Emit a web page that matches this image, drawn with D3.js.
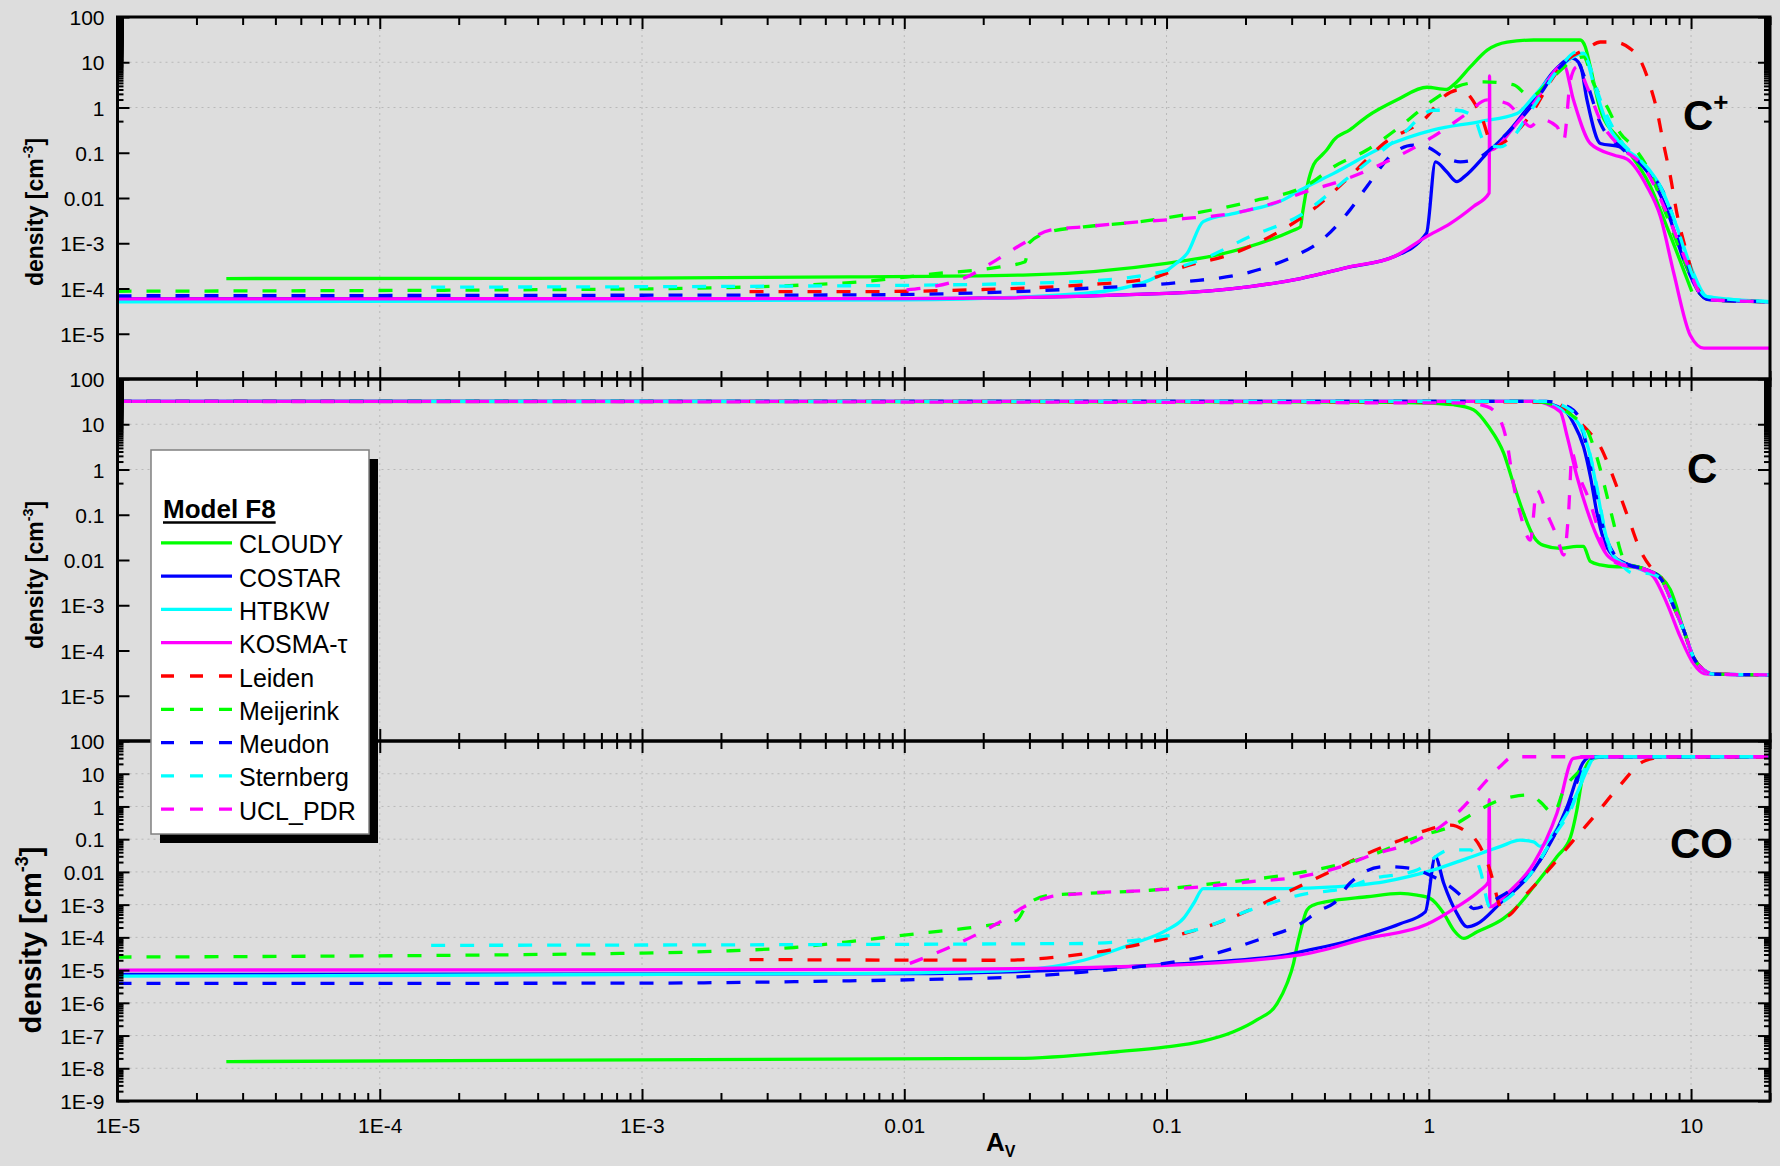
<!DOCTYPE html>
<html><head><meta charset="utf-8">
<script src="https://cdn.jsdelivr.net/npm/d3@7"></script>
<style>
body{margin:0;background:#dddddd;}
svg{display:block;}
text{font-family:"Liberation Sans",Arial,sans-serif;fill:#000;}
</style>
</head><body>
<svg id="chart" width="1780" height="1166"></svg>
<script>
// ---------------- data ----------------
const models = ["CLOUDY","COSTAR","HTBKW","KOSMA-\u03c4","Leiden","Meijerink","Meudon","Sternberg","UCL_PDR"];
const colors = ["#00ff00","#0000ff","#00ffff","#ff00ff","#ff0000","#00ff00","#0000ff","#00ffff","#ff00ff"];
const dashed = [false,false,false,false,true,true,true,true,true];

const xTickValues = [1e-5,1e-4,1e-3,0.01,0.1,1,10];
const xTickLabels = ["1E-5","1E-4","1E-3","0.01","0.1","1","10"];
const yTickValues12 = [1e-5,1e-4,1e-3,0.01,0.1,1,10,100];
const yTickLabels12 = ["1E-5","1E-4","1E-3","0.01","0.1","1","10","100"];
const yTickValues3 = [1e-9,1e-8,1e-7,1e-6,1e-5,1e-4,1e-3,0.01,0.1,1,10,100];
const yTickLabels3 = ["1E-9","1E-8","1E-7","1E-6","1E-5","1E-4","1E-3","0.01","0.1","1","10","100"];

// C+ panel  [Av, density]
const cpCLOUDY = [[2.6e-5,1.66e-4],[1e-3,1.7e-4],[6.2e-3,1.8e-4],[0.03,2.0e-4],[0.1,3.6e-4],[0.156,5.5e-4],[0.305,1.95e-3],[0.324,2.3e-3],[0.33,4.6e-3],[0.345,0.02],[0.364,0.055],[0.385,0.081],[0.408,0.115],[0.434,0.19],[0.5,0.32],[0.581,0.63],[0.757,1.48],[0.984,2.8],[1.17,2.5],[1.245,3.2],[1.44,7.9],[1.67,18.6],[1.99,28],[2.51,31],[3.78,31],[3.95,22],[4.13,7.9],[4.51,0.87],[5.37,0.19],[7.0,0.018],[8.09,2.3e-3],[10.07,8.5e-5]];
const cpCOSTAR = [[1e-5,5.9e-5],[0.01,6.0e-5],[0.1,7.8e-5],[0.208,1.1e-4],[0.324,1.66e-4],[0.5,3.0e-4],[0.734,5.0e-4],[0.98,1.66e-3],[1.06,0.063],[1.17,0.038],[1.28,0.023],[1.37,0.030],[1.67,0.098],[1.99,0.27],[2.51,1.48],[2.99,6.2],[3.52,12.3],[3.78,8.7],[4.01,1.48],[4.51,0.16],[5.37,0.135],[6.04,0.081],[7.0,0.030],[8.09,5.4e-3],[9.38,4.3e-4],[10.8,7.8e-5],[11.8,5.6e-5],[20,5.1e-5]];
const cpHTBKW = [[1e-5,5.1e-5],[0.01,5.6e-5],[0.0483,7.8e-5],[0.0867,1.55e-4],[0.109,3.6e-4],[0.12,6.0e-4],[0.138,3.0e-3],[0.185,4.7e-3],[0.279,9.1e-3],[0.324,0.015],[0.434,0.035],[0.673,0.135],[1.042,0.32],[1.57,0.49],[2.17,0.74],[2.51,1.74],[3.17,7.9],[3.89,15.8],[4.25,3.4],[4.78,0.45],[5.37,0.16],[6.59,0.059],[7.64,0.018],[8.83,2.3e-3],[10.2,2.2e-4],[11.5,6.6e-5],[20,5.1e-5]];
const cpKOSMA = [[1e-5,5.9e-5],[0.01,6.0e-5],[0.1,7.8e-5],[0.208,1.1e-4],[0.324,1.66e-4],[0.5,3.0e-4],[0.734,5.0e-4],[0.98,1.4e-3],[1.21,2.75e-3],[1.48,6.5e-3],[1.70,0.013],[1.705,5.0],[1.71,0.115],[2.17,0.45],[2.51,1.23],[3.27,8.7],[3.56,1.48],[4.13,0.16],[5.07,0.089],[5.7,0.072],[6.79,0.018],[7.64,3.9e-3],[8.59,2.2e-4],[9.93,9.3e-6],[11.2,4.8e-6],[20,4.8e-6]];
const cpLeiden = [[2.57e-3,8.5e-5],[6.2e-3,8.5e-5],[0.02,9.5e-5],[0.0483,1.2e-4],[0.0867,1.66e-4],[0.116,3.0e-4],[0.18,6.0e-4],[0.242,1.3e-3],[0.374,6.5e-3],[0.5,0.03],[0.673,0.16],[0.984,0.63],[1.14,1.74],[1.32,2.45],[1.57,0.74],[1.77,0.135],[1.99,0.19],[2.51,0.87],[2.99,4.8],[3.37,11.2],[4.01,20],[4.51,28],[5.07,28],[5.86,20],[6.4,11.2],[7.0,2.9],[7.41,0.87],[7.85,0.16],[8.34,0.03],[8.83,4.6e-3],[9.64,6.0e-4],[10.5,1.1e-4],[11.8,5.6e-5],[20,5.1e-5]];
const cpMeijerink = [[1e-5,8.7e-5],[1e-3,9.8e-5],[6.2e-3,1.35e-4],[0.0129,2.1e-4],[0.0232,3.0e-4],[0.0289,3.9e-4],[0.0298,1.0e-3],[0.036,1.8e-3],[0.0483,2.3e-3],[0.0794,3.0e-3],[0.116,4.2e-3],[0.208,8.3e-3],[0.353,0.021],[0.434,0.049],[0.581,0.115],[0.778,0.38],[1.042,1.48],[1.28,2.9],[1.62,3.7],[2.10,3.2],[2.44,1.74],[2.99,4.8],[3.56,11.2],[3.89,13.2],[4.25,3.4],[4.78,1.05],[5.37,0.27],[6.04,0.135],[7.0,0.035],[8.09,3.9e-3],[9.64,3.0e-4],[10.8,7.8e-5],[11.8,5.6e-5],[20,5.1e-5]];
const cpMeudon = [[1e-5,6.9e-5],[1e-3,7.1e-5],[6.2e-3,7.2e-5],[0.0483,1.0e-4],[0.116,1.4e-4],[0.208,2.3e-4],[0.324,6.0e-4],[0.36,8.3e-4],[0.5,5.4e-3],[0.581,0.018],[0.734,0.098],[0.875,0.148],[0.984,0.135],[1.14,0.081],[1.32,0.063],[1.57,0.081],[1.87,0.19],[2.51,1.23],[3.17,7.9],[3.56,13.2],[4.01,3.4],[4.51,0.45],[5.37,0.135],[6.59,0.049],[8.09,9.1e-3],[9.38,6.0e-4],[10.8,7.8e-5],[11.8,5.6e-5],[20,5.1e-5]];
const cpSternberg = [[1.57e-4,1.07e-4],[6.2e-3,1.15e-4],[0.036,1.35e-4],[0.0748,1.8e-4],[0.135,4.3e-4],[0.208,1.4e-3],[0.324,4.2e-3],[0.5,0.03],[0.778,0.23],[1.042,0.87],[1.28,0.87],[1.48,0.63],[1.64,0.16],[1.87,0.135],[2.51,1.05],[3.17,7.9],[3.67,17],[4.01,11.2],[4.51,1.48],[5.37,0.19],[6.4,0.069],[7.64,0.018],[8.83,2.3e-3],[10.2,1.8e-4],[11.5,6.6e-5],[20,5.1e-5]];
const cpUCL = [[0.0102,9.3e-5],[0.0173,1.8e-4],[0.0225,4.3e-4],[0.0285,1.0e-3],[0.036,1.95e-3],[0.0483,2.3e-3],[0.0794,3.0e-3],[0.116,3.5e-3],[0.18,4.6e-3],[0.279,9.1e-3],[0.324,0.0126],[0.473,0.025],[0.673,0.059],[1.042,0.23],[1.40,0.74],[1.67,1.48],[1.99,1.23],[2.23,0.63],[2.44,0.38],[2.66,0.55],[3.08,0.38],[3.27,0.19],[3.47,4.1],[3.67,7.9],[4.01,2.9],[4.51,0.52],[5.37,0.135],[6.59,0.049],[8.09,4.6e-3],[9.64,3.6e-4],[10.8,7.8e-5],[11.8,5.6e-5],[20,5.1e-5]];

// C panel
const cCLOUDY = [[2.6e-5,32],[0.5,31],[0.984,29.5],[1.245,27],[1.48,21],[1.69,8.9],[1.93,2.3],[2.10,0.5],[2.30,0.107],[2.51,0.033],[2.74,0.021],[3.17,0.018],[3.67,0.020],[3.89,0.020],[4.13,9.3e-3],[4.51,7.8e-3],[5.22,7.1e-3],[6.04,7.1e-3],[6.79,6.0e-3],[7.64,4.3e-3],[8.34,2.2e-3],[9.38,2.8e-4],[10.07,8e-5]];
const cCOSTAR = [[1e-5,32],[2.51,32],[3.27,21],[3.56,10.7],[3.89,3.2],[4.13,0.71],[4.38,0.107],[4.65,0.0275],[5.07,0.012],[5.6,8.5e-3],[6.79,6.0e-3],[7.64,4.0e-3],[8.59,9.3e-4],[9.38,2.8e-4],[10.2,7.2e-5],[11.2,3.7e-5],[12.2,3.0e-5],[20,2.9e-5]];
const cHTBKW = [[1e-5,32],[2.51,32],[3.37,17.8],[3.78,8.9],[4.13,1.95],[4.38,0.35],[4.65,0.055],[4.92,0.0166],[5.37,9.1e-3],[6.04,7.1e-3],[6.79,5.5e-3],[7.64,4.0e-3],[8.59,9.3e-4],[9.38,2.8e-4],[10.2,7.2e-5],[11.2,3.7e-5],[12.2,3.0e-5],[20,2.9e-5]];
const cKOSMA = [[1e-5,32],[2.51,32],[3.17,19],[3.37,5.4],[3.67,0.71],[4.01,0.129],[4.38,0.033],[4.78,0.0129],[5.37,8.5e-3],[6.59,6.0e-3],[7.19,4.3e-3],[8.09,1.1e-3],[9.1,2.0e-4],[10.2,5.2e-5],[11.2,3.1e-5],[12.2,3.0e-5],[20,2.9e-5]];
const cLeiden = [[2.57e-3,32],[2.99,31],[3.56,14.8],[4.01,7.6],[4.51,3.2],[4.92,1.0],[5.37,0.26],[5.86,0.065],[6.4,0.0166],[7.0,7.1e-3],[7.64,4.3e-3],[8.59,9.3e-4],[9.38,2.8e-4],[10.2,7.2e-5],[11.2,3.7e-5],[12.2,3.0e-5],[20,2.9e-5]];
const cMeijerink = [[1e-5,32],[2.51,32],[3.08,25],[3.56,14.8],[4.01,7.6],[4.25,3.2],[4.51,1.0],[4.78,0.26],[5.07,0.065],[5.37,0.0166],[5.6,9.3e-3],[6.79,6.0e-3],[7.64,4.0e-3],[8.59,9.3e-4],[9.38,2.8e-4],[10.2,7.2e-5],[11.2,3.7e-5],[12.2,3.0e-5],[20,2.9e-5]];
const cMeudon = [[1e-5,32],[2.8,32],[3.37,25],[3.78,12.6],[4.01,2.75],[4.25,0.5],[4.51,0.091],[4.78,0.0275],[5.07,0.014],[5.6,8.5e-3],[6.79,6.0e-3],[7.64,4.0e-3],[8.59,9.3e-4],[9.38,2.8e-4],[10.2,7.2e-5],[11.2,3.7e-5],[12.2,3.0e-5],[20,2.9e-5]];
const cSternberg = [[1.57e-4,32],[2.8,32],[3.37,23],[3.78,11],[4.13,2.0],[4.38,0.4],[4.65,0.06],[4.92,0.018],[5.37,8.5e-3],[6.04,5.1e-3],[6.79,5.1e-3],[7.64,4.0e-3],[8.59,9.3e-4],[9.38,2.8e-4],[10.2,7.2e-5],[11.2,3.7e-5],[12.2,3.0e-5],[20,2.9e-5]];
const cUCL = [[1e-5,32],[1.40,29.5],[1.67,24.5],[1.87,12.6],[1.99,3.8],[2.10,0.5],[2.23,0.107],[2.44,0.0275],[2.58,0.35],[2.82,0.107],[3.08,0.033],[3.27,0.0129],[3.41,0.107],[3.52,2.3],[3.67,1.0],[4.13,0.18],[4.51,0.033],[4.78,0.0129],[5.22,8.5e-3],[6.79,6.0e-3],[7.64,4.0e-3],[8.59,9.3e-4],[9.38,2.8e-4],[10.2,7.2e-5],[11.2,3.7e-5],[12.2,3.0e-5],[20,2.9e-5]];

// CO panel
const coCLOUDY = [[2.6e-5,1.6e-8],[0.0269,2.0e-8],[0.0647,3.2e-8],[0.1,4.5e-8],[0.135,6.5e-8],[0.18,1.3e-7],[0.221,3.0e-7],[0.264,9.5e-7],[0.288,3.9e-6],[0.305,1.6e-5],[0.314,5.1e-5],[0.324,1.5e-4],[0.343,6.8e-4],[0.364,9.8e-4],[0.409,1.23e-3],[0.581,1.74e-3],[0.778,2.2e-3],[0.902,1.95e-3],[1.014,1.55e-3],[1.14,5.4e-4],[1.245,1.66e-4],[1.36,9.3e-5],[1.53,1.48e-4],[1.93,3.8e-4],[2.17,8.5e-4],[2.51,3.5e-3],[3.08,0.029],[3.47,0.117],[3.67,0.78],[3.84,6.5],[4.13,26],[4.51,32],[10.07,33]];
const coCOSTAR = [[1e-5,7.4e-6],[0.01,7.8e-6],[0.0867,1.4e-5],[0.279,2.8e-5],[0.324,3.6e-5],[0.5,8.0e-5],[0.581,1.17e-4],[0.778,2.6e-4],[0.97,6.0e-4],[1.059,0.029],[1.14,4.5e-3],[1.28,5.4e-4],[1.40,2.1e-4],[1.53,2.6e-4],[1.87,1.1e-3],[2.51,0.0115],[2.99,0.117],[3.37,0.98],[3.89,23],[4.13,32],[20,33]];
const coHTBKW = [[1e-5,6.5e-6],[6.2e-3,7.8e-6],[0.0269,1.0e-5],[0.0483,2.0e-5],[0.0748,6.5e-5],[0.1,1.66e-4],[0.116,3.8e-4],[0.127,1.1e-3],[0.138,3.1e-3],[0.279,3.1e-3],[0.434,3.5e-3],[0.673,5.0e-3],[1.042,0.0115],[1.40,0.026],[1.87,0.059],[2.23,0.093],[2.51,0.083],[2.66,0.06],[2.99,0.15],[3.37,0.62],[3.67,2.5],[4.01,13],[4.25,30],[4.51,33],[20,33]];
const coKOSMA = [[1e-5,1.0e-5],[0.01,1.05e-5],[0.1,1.4e-5],[0.279,2.5e-5],[0.324,2.9e-5],[0.581,9.3e-5],[0.984,2.5e-4],[1.28,8.5e-4],[1.57,2.75e-3],[1.69,5.0e-3],[1.70,1.6],[1.71,8.5e-4],[1.99,2.2e-3],[2.51,0.018],[3.08,0.62],[3.56,29.5],[4.01,33],[20,33]];
const coLeiden = [[2.57e-3,2.1e-5],[0.0229,2.0e-5],[0.0483,3.1e-5],[0.0867,7.2e-5],[0.116,1.3e-4],[0.18,4.2e-4],[0.264,1.74e-3],[0.434,0.0115],[0.581,0.036],[0.778,0.093],[0.984,0.19],[1.21,0.27],[1.36,0.19],[1.57,0.059],[1.71,0.0115],[1.87,8.5e-4],[1.96,4.3e-4],[2.37,2.2e-3],[2.86,0.0115],[3.52,0.083],[4.32,0.55],[5.30,4.0],[6.68,25],[8.09,33],[20,33]];
const coMeijerink = [[1e-5,2.5e-5],[1e-3,3.3e-5],[2.17e-3,3.9e-5],[3.8e-3,4.9e-5],[6.0e-3,7.2e-5],[0.0112,1.3e-4],[0.0189,2.1e-4],[0.0269,3.4e-4],[0.0294,1.0e-3],[0.036,1.95e-3],[0.0483,2.2e-3],[0.0867,2.75e-3],[0.156,4.5e-3],[0.279,7.9e-3],[0.473,0.018],[0.581,0.029],[0.902,0.117],[1.245,0.27],[1.48,0.62],[1.87,1.58],[2.10,2.0],[2.44,2.24],[2.66,1.38],[2.99,0.62],[3.27,3.2],[3.78,13],[4.13,30],[4.51,33],[20,33]];
const coMeudon = [[1e-5,3.9e-6],[1e-3,4.0e-6],[6.2e-3,4.7e-6],[0.0112,5.1e-6],[0.0269,6.2e-6],[0.0483,8.7e-6],[0.0867,1.4e-5],[0.135,2.5e-5],[0.242,1.05e-4],[0.324,2.6e-4],[0.385,6.8e-4],[0.434,1.1e-3],[0.5,4.5e-3],[0.673,0.0145],[0.849,0.0129],[1.042,7.1e-3],[1.21,3.5e-3],[1.36,1.55e-3],[1.48,7.6e-4],[1.87,1.74e-3],[2.51,0.0115],[3.08,0.19],[3.37,0.78],[3.78,10],[4.13,30],[4.51,33],[20,33]];
const coSternberg = [[1.57e-4,5.7e-5],[0.0483,6.5e-5],[0.0867,9.3e-5],[0.135,1.86e-4],[0.208,6.8e-4],[0.324,2.0e-3],[0.5,3.5e-3],[0.581,5.6e-3],[0.902,0.0115],[1.21,0.047],[1.44,0.047],[1.57,0.0115],[1.71,8.5e-4],[1.87,1.1e-3],[2.51,0.0115],[2.99,0.117],[3.56,1.23],[4.01,21],[4.25,32],[4.51,33],[20,33]];
const coUCL = [[0.0105,1.6e-5],[0.015,5.1e-5],[0.0225,2.6e-4],[0.0294,9.5e-4],[0.036,1.74e-3],[0.0483,2.2e-3],[0.0867,2.75e-3],[0.135,3.5e-3],[0.208,5.0e-3],[0.324,7.1e-3],[0.5,0.018],[0.581,0.029],[0.902,0.093],[1.107,0.24],[1.32,0.78],[1.67,6.5],[1.87,16.6],[2.10,33],[20,33]];

// ---------------- drawing ----------------
const W = 1780, H = 1166;
const X0 = 117.5, X1 = 1770;
const FONT = '"Liberation Sans",Arial,sans-serif';

const panels = [
  {top:17,  bot:379,  dom:[1e-6,1e2], tv:yTickValues12, tl:yTickLabels12,
   series:[cpCLOUDY,cpCOSTAR,cpHTBKW,cpKOSMA,cpLeiden,cpMeijerink,cpMeudon,cpSternberg,cpUCL],
   name:"C", sup:"+", nx:1683, ny:130, labY:212, labX:43, labSize:23},
  {top:379, bot:741,  dom:[1e-6,1e2], tv:yTickValues12, tl:yTickLabels12,
   series:[cCLOUDY,cCOSTAR,cHTBKW,cKOSMA,cLeiden,cMeijerink,cMeudon,cSternberg,cUCL],
   name:"C", sup:"", nx:1687, ny:483, labY:575, labX:43, labSize:23},
  {top:741, bot:1101, dom:[1e-9,1e2], tv:yTickValues3, tl:yTickLabels3,
   series:[coCLOUDY,coCOSTAR,coHTBKW,coKOSMA,coLeiden,coMeijerink,coMeudon,coSternberg,coUCL],
   name:"CO", sup:"", nx:1670, ny:858, labY:940, labX:41, labSize:29}
];

const svg = d3.select("#chart");
svg.append("rect").attr("width",W).attr("height",H).attr("fill","#dddddd");
const defs = svg.append("defs");

const x = d3.scaleLog().domain([1e-5,20]).range([X0,X1]);
const isPow = v => Math.abs(Math.log10(v) - Math.round(Math.log10(v))) < 1e-6;
const xMinor = x.ticks(100).filter(v => !isPow(v));

function styleAxis(g){
  g.select(".domain").remove();
  g.selectAll(".tick line").attr("stroke","#000").attr("stroke-width",2);
  g.selectAll(".tick text").attr("font-family",FONT).attr("font-size",21).attr("fill","#000");
}

panels.forEach((p,pi) => {
  const y = d3.scaleLog().domain(p.dom).range([p.bot,p.top]);
  const yAll = y.ticks(200);
  const yMinor = yAll.filter(v => !isPow(v));
  const yMajor = yAll.filter(v => isPow(v));

  const cid = "clip" + pi;
  defs.append("clipPath").attr("id",cid).append("rect")
    .attr("x",X0).attr("y",p.top).attr("width",X1-X0).attr("height",p.bot-p.top);

  const g = svg.append("g");
  // grid
  g.append("g").selectAll("line").data(xTickValues.filter(v=>v>1e-5)).join("line")
    .attr("x1",d=>x(d)).attr("x2",d=>x(d)).attr("y1",p.top).attr("y2",p.bot)
    .attr("stroke","#b8b8b8").attr("stroke-width",1).attr("stroke-dasharray","2,4");
  g.append("g").selectAll("line").data(yMajor.filter(v=>v>p.dom[0] && v<p.dom[1])).join("line")
    .attr("x1",X0).attr("x2",X1).attr("y1",d=>y(d)).attr("y2",d=>y(d))
    .attr("stroke","#b8b8b8").attr("stroke-width",1).attr("stroke-dasharray","2,4");

  // series
  const line = d3.line().x(d=>x(d[0])).y(d=>y(d[1])).curve(d3.curveMonotoneX);
  const lg = g.append("g").attr("clip-path",`url(#${cid})`);
  p.series.forEach((s,j) => {
    lg.append("path").attr("d",line(s)).attr("fill","none")
      .attr("stroke",colors[j]).attr("stroke-width",3.3)
      .attr("stroke-linejoin","round")
      .attr("stroke-dasharray",dashed[j] ? "14,15" : null);
  });

  // y axes (left with labels, right without)
  const axL = g.append("g").attr("transform",`translate(${X0},0)`)
    .call(d3.axisLeft(y).tickValues(p.tv).tickSize(-12).tickPadding(13).tickFormat((d,i)=>p.tl[i]));
  styleAxis(axL);
  axL.selectAll(".tick text").attr("dy","0.36em");
  const axLm = g.append("g").attr("transform",`translate(${X0},0)`)
    .call(d3.axisLeft(y).tickValues(yMinor).tickSize(-6).tickFormat(""));
  styleAxis(axLm);
  const axR = g.append("g").attr("transform",`translate(${X1},0)`)
    .call(d3.axisRight(y).tickValues(yMajor).tickSize(-12).tickFormat(""));
  styleAxis(axR);
  const axRm = g.append("g").attr("transform",`translate(${X1},0)`)
    .call(d3.axisRight(y).tickValues(yMinor).tickSize(-6).tickFormat(""));
  styleAxis(axRm);

  // x axes (top & bottom of each panel)
  const axT = g.append("g").attr("transform",`translate(0,${p.top})`)
    .call(d3.axisTop(x).tickValues(xTickValues).tickSize(-12).tickFormat(""));
  styleAxis(axT);
  const axTm = g.append("g").attr("transform",`translate(0,${p.top})`)
    .call(d3.axisTop(x).tickValues(xMinor).tickSize(-8).tickFormat(""));
  styleAxis(axTm);
  const last = pi === panels.length-1;
  const axB = g.append("g").attr("transform",`translate(0,${p.bot})`)
    .call(d3.axisBottom(x).tickValues(xTickValues).tickSize(-12).tickPadding(17)
      .tickFormat((d,i)=> last ? xTickLabels[i] : ""));
  styleAxis(axB);
  const axBm = g.append("g").attr("transform",`translate(0,${p.bot})`)
    .call(d3.axisBottom(x).tickValues(xMinor).tickSize(-8).tickFormat(""));
  styleAxis(axBm);

  // frame
  g.append("rect").attr("x",X0).attr("y",p.top).attr("width",X1-X0).attr("height",p.bot-p.top)
    .attr("fill","none").attr("stroke","#000").attr("stroke-width",3);

  // panel name
  const nt = g.append("text").attr("x",p.nx).attr("y",p.ny)
    .attr("font-family",FONT).attr("font-weight","bold").attr("font-size",42).text(p.name);
  if (p.sup) nt.append("tspan").attr("dy",-19).attr("font-size",26).text(p.sup);

  // y label
  const yl = g.append("text").attr("transform",`translate(${p.labX},${p.labY}) rotate(-90)`)
    .attr("text-anchor","middle").attr("font-family",FONT).attr("font-weight","bold")
    .attr("font-size",p.labSize);
  yl.append("tspan").text("density [cm");
  yl.append("tspan").attr("dy",-p.labSize*0.45).attr("font-size",p.labSize*0.62).text("-3");
  yl.append("tspan").attr("dy",p.labSize*0.45).text("]");
});

// x label
const xl = svg.append("text").attr("x",986).attr("y",1151)
  .attr("font-family",FONT).attr("font-weight","bold").attr("font-size",26).text("A");
xl.append("tspan").attr("dy",6).attr("font-size",16).text("V");

// legend
const leg = svg.append("g");
leg.append("rect").attr("x",160).attr("y",459).attr("width",218).attr("height",384).attr("fill","#000");
leg.append("rect").attr("x",151).attr("y",450).attr("width",218).attr("height",384)
  .attr("fill","#fff").attr("stroke","#808080").attr("stroke-width",1.5);
const title = leg.append("text").attr("x",163).attr("y",518).attr("font-family",FONT)
  .attr("font-weight","bold").attr("font-size",26).text("Model F8");
const tw = title.node().getComputedTextLength();
leg.append("line").attr("x1",163).attr("x2",163+tw).attr("y1",522.5).attr("y2",522.5)
  .attr("stroke","#000").attr("stroke-width",2.5);
models.forEach((m,i) => {
  const yy = 553.3 + i*33.3;
  leg.append("line").attr("x1",161).attr("x2",232).attr("y1",yy-10.5).attr("y2",yy-10.5)
    .attr("stroke",colors[i]).attr("stroke-width",3.3)
    .attr("stroke-dasharray",dashed[i] ? "13,16" : null);
  leg.append("text").attr("x",239).attr("y",yy).attr("font-family",FONT)
    .attr("font-size",25).text(m);
});
</script>
</body></html>
